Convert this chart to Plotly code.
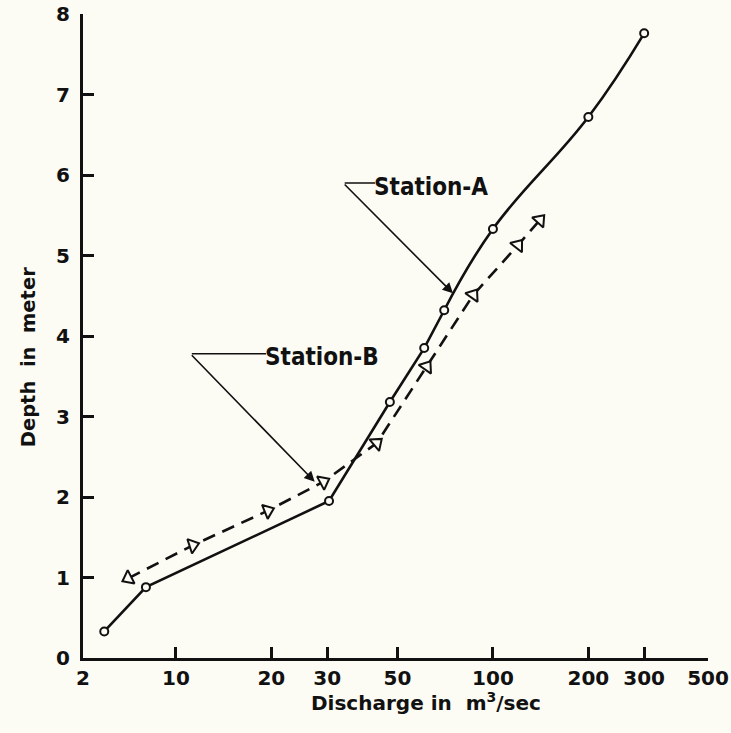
import math
import plotly.graph_objects as go

# ---- data ----
a_discharge = [5.94, 8.04, 30.4, 47.3, 60.7, 70.2, 100, 200, 300]
a_depth = [0.33, 0.88, 1.95, 3.18, 3.85, 4.32, 5.33, 6.72, 7.76]
a_curve_from = 5  # the curve is drawn smoothly from the 6th point on

b_discharge = [7.07, 11.3, 19.5, 29.2, 43.0, 61.8, 86.7, 120, 140.6]
b_depth = [0.99, 1.40, 1.83, 2.19, 2.67, 3.62, 4.51, 5.13, 5.44]
b_marker_angle = [243, 72, 68, 62, 50, 35, 35, 38, 42]

# tick positions (as drawn on the original sheet) and their printed labels
x_tick_pos = [5.09, 10, 20, 30, 50, 100, 200, 300, 477]
x_tick_text = ["2", "10", "20", "30", "50", "100", "200", "300", "500"]
y_tick_vals = [0, 1, 2, 3, 4, 5, 6, 7, 8]
y_tick_text = ["0", "1", "2", "3", "4", "5", "6", "7", "8"]

x_range = [5.09, 477]
y_range = [0, 8]

# callout label geometry (discharge, depth)
label_a = dict(text="Station-A", text_at=(41.5, 5.85), corner=(33.7, 5.90), tip=(74.8, 4.53))
label_b = dict(text="Station-B", text_at=(18.8, 3.74), corner=(11.1, 3.78), tip=(27.4, 2.19))

BG = "#fcfbf4"
INK = "#111111"
FONT = "DejaVu Sans"
LABEL_FONT = "DejaVu Sans Condensed, DejaVu Sans"

fig = go.Figure()

# Station-A: straight segments, then smooth curve
fig.add_trace(go.Scatter(
    x=a_discharge[:a_curve_from + 1], y=a_depth[:a_curve_from + 1], mode="lines",
    line=dict(color=INK, width=2.6), showlegend=False, hoverinfo="skip",
))
fig.add_trace(go.Scatter(
    x=a_discharge[a_curve_from:], y=a_depth[a_curve_from:], mode="lines",
    line=dict(color=INK, width=2.6, shape="spline", smoothing=1.2),
    showlegend=False, hoverinfo="skip",
))

fig.add_trace(go.Scatter(
    x=b_discharge, y=b_depth, mode="lines+markers", name="Station-B",
    line=dict(color=INK, width=2.6, dash="13px,8px"),
    marker=dict(symbol="triangle-up", size=13, color=BG, angle=b_marker_angle,
                line=dict(color=INK, width=2)),
    showlegend=False,
))
fig.add_trace(go.Scatter(
    x=a_discharge, y=a_depth, mode="markers", name="Station-A",
    marker=dict(symbol="circle", size=8, color=BG, line=dict(color=INK, width=2)),
    showlegend=False,
))

L = math.log10
annotations = []
for lab in (label_a, label_b):
    tx, ty = lab["text_at"]
    cx, cy = lab["corner"]
    px, py = lab["tip"]
    annotations.append(dict(
        x=L(tx), y=ty, xref="x", yref="y", text=lab["text"], showarrow=False,
        xanchor="left", yanchor="middle",
        font=dict(family=LABEL_FONT, size=24, color=INK, weight="bold"),
    ))
    annotations.append(dict(
        x=L(tx) + 0.01, y=cy, ax=L(cx), ay=cy, xref="x", yref="y", axref="x", ayref="y",
        text="", showarrow=True, arrowhead=0, arrowwidth=1.6, arrowcolor=INK,
        standoff=0, startstandoff=0,
    ))
    annotations.append(dict(
        x=L(px), y=py, ax=L(cx), ay=cy, xref="x", yref="y", axref="x", ayref="y",
        text="", showarrow=True, arrowhead=2, arrowsize=1.3, arrowwidth=1.6, arrowcolor=INK,
        standoff=0, startstandoff=0,
    ))

# axis titles placed as on the original sheet
annotations.append(dict(
    x=0.549, y=-0.068, xref="paper", yref="paper", showarrow=False,
    text="Discharge in  m<sup>3</sup>/sec", xanchor="center", yanchor="middle",
    font=dict(family=FONT, size=20, color=INK, weight="bold"),
))
annotations.append(dict(
    x=-0.088, y=0.467, xref="paper", yref="paper", showarrow=False, textangle=-90,
    text="Depth  in  meter", xanchor="center", yanchor="middle",
    font=dict(family=FONT, size=19.5, color=INK, weight="bold"),
))

fig.update_layout(
    width=731, height=733,
    margin=dict(l=83, r=23, t=14, b=75, autoexpand=False),
    paper_bgcolor=BG, plot_bgcolor=BG,
    font=dict(family=FONT, color=INK),
    annotations=annotations,
)

fig.update_xaxes(
    type="log", range=[L(x_range[0]), L(x_range[1])], automargin=False,
    tickvals=x_tick_pos, ticktext=x_tick_text,
    ticks="inside", ticklen=11, tickwidth=2.5, tickcolor=INK,
    showline=True, linecolor=INK, linewidth=3, showgrid=False, zeroline=False,
    tickfont=dict(family=FONT, size=20, color=INK, weight="bold"),
    ticklabelstandoff=0,
)
fig.update_yaxes(
    range=y_range, tickvals=y_tick_vals, ticktext=y_tick_text, automargin=False,
    ticks="inside", ticklen=11, tickwidth=2.5, tickcolor=INK,
    showline=True, linecolor=INK, linewidth=3, showgrid=False, zeroline=False,
    tickfont=dict(family=FONT, size=20, color=INK, weight="bold"),
    ticklabelstandoff=6,
)

fig.write_html(
    "out.html",
    config={"displayModeBar": False},
    post_script="document.body.style.margin='0';document.body.style.overflow='hidden';"
                "document.body.style.background='" + BG + "';",
)
